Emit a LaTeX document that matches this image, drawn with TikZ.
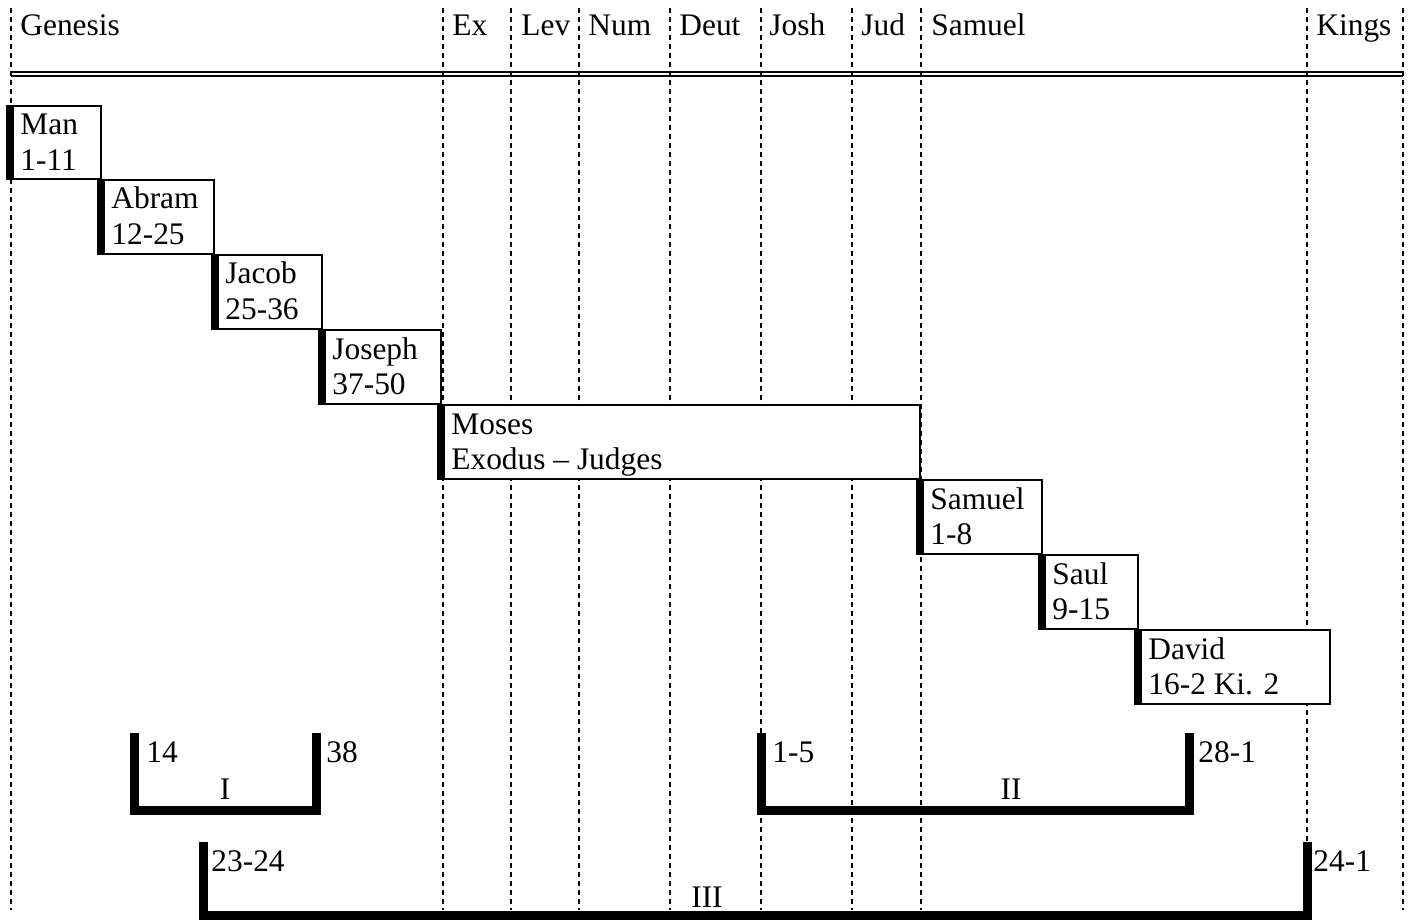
\documentclass[tikz,border=0pt]{standalone}
\usepackage{fontspec}
\setmainfont{Liberation Serif}
\usetikzlibrary{fit}
\begin{document}
\begin{tikzpicture}[x=0.5pt,y=-0.5pt,
  guide/.style={line width=0.9pt, dash pattern=on 2.6pt off 1.9pt},
  rule/.style={line width=1.2pt},
  boxframe/.style={draw, line width=1pt, fill=white, inner sep=0pt, outer sep=0pt},
  lbl/.style={anchor=base west, inner sep=0pt, font=\fontsize{15.7}{17.5}\selectfont},
  mid/.style={anchor=base, inner sep=0pt, font=\fontsize{15.7}{17.5}\selectfont},
  bracket/.style={line width=4.5pt, miter limit=10}]
\useasboundingbox (0,0) rectangle (1415,920);
% guide lines
\foreach \gx in {11,443,511,579.3,670,761,852.3,921,1306.7,1403.3}
  \draw[guide] (\gx,8) -- (\gx,910);
% double rule
\draw[rule] (11,72.3) -- (1403.3,72.3);
\draw[rule] (11,76.2) -- (1403.3,76.2);
% header
\node[lbl] (hgen) at (20,36) {Genesis};
\node[lbl] (hex) at (452,36) {Ex};
\node[lbl] (hlev) at (521,36) {Lev};
\node[lbl] (hnum) at (588,36) {Num};
\node[lbl] (hdeut) at (679,36) {Deut};
\node[lbl] (hjosh) at (769,36) {Josh};
\node[lbl] (hjud) at (861,36) {Jud};
\node[lbl] (hsam) at (931,36) {Samuel};
\node[lbl] (hkings) at (1316,36) {Kings};
% boxes
\newcommand\ebox[7]{%
  \node[boxframe, fit={(#2+1,#3+1)(#4-1,#5-1)}] (#1) {};
  \fill (#2,#3) rectangle (#2+8,#5);
  \node[lbl] (#1-a) at (#2+14,#3+30) {#6};
  \node[lbl] (#1-b) at (#2+14,#3+65) {#7};}
\ebox{man}{6}{105}{102}{180}{Man}{1-11}
\ebox{abram}{97}{179}{215}{255}{Abram}{12-25}
\ebox{jacob}{211}{254}{323}{330}{Jacob}{25-36}
\ebox{joseph}{318}{329}{442}{405}{Joseph}{37-50}
\ebox{moses}{437}{404}{921}{480}{Moses}{Exodus -- Judges}
\ebox{samuel}{916}{479}{1043}{555}{Samuel}{1-8}
\ebox{saul}{1038}{554}{1139}{630}{Saul}{9-15}
\ebox{david}{1134}{629}{1331}{705}{David}{16-2 Ki. 2}
% brackets
\draw[bracket] (134.5,733) -- (134.5,810.5) -- (316.5,810.5) -- (316.5,733);
\node[lbl] (b1l) at (146,762) {14};
\node[lbl] (b1r) at (326,762) {38};
\node[mid] (b1) at (225,799) {I};
\draw[bracket] (761,733) -- (761,810.5) -- (1189,810.5) -- (1189,733);
\node[lbl] (b2l) at (772,762) {1-5};
\node[lbl] (b2r) at (1198,762) {28-1};
\node[mid] (b2) at (1011,799) {II};
\draw[bracket] (203,842) -- (203,915.5) -- (1307,915.5) -- (1307,842);
\node[lbl] (b3l) at (211,871) {23-24};
\node[lbl] (b3r) at (1313,871) {24-1};
\node[mid] (b3) at (707,907) {III};
\end{tikzpicture}
\end{document}
